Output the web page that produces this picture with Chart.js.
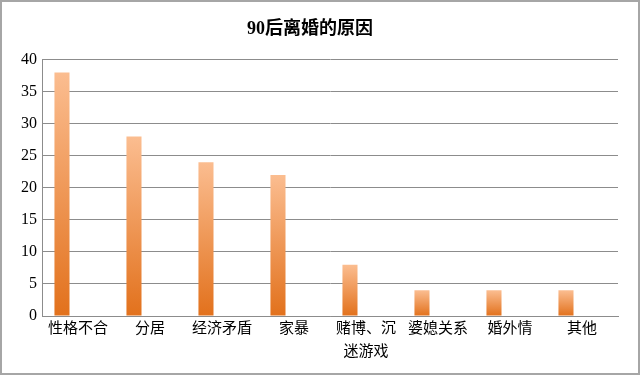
<!DOCTYPE html>
<html>
<head>
<meta charset="utf-8">
<script src="https://cdn.jsdelivr.net/npm/chart.js@4"></script>
<style>
  html, body { margin: 0; padding: 0; background: #fff; }
  #wrap { width: 636px; height: 371px; border: 2px solid #a6a6a6; position: relative; }
</style>
</head>
<body>
<div id="wrap"><canvas id="myChart" width="636" height="371"></canvas></div>
<script>
// categories and values
var categories = ['性格不合', '分居', '经济矛盾', '家暴', ['赌博、沉', '迷游戏'], '婆媳关系', '婚外情', '其他'];
var reasonCounts = [38, 28, 24, 22, 8, 4, 4, 4];
// excel had a second (empty) series, which pushes every bar left of its label
var emptySeries = [null, null, null, null, null, null, null, null];
var yTicks = [0, 5, 10, 15, 20, 25, 30, 35, 40];

var serif = '"Liberation Serif", "Noto Sans CJK SC", serif';

function barGradient(context) {
  var chart = context.chart;
  var y = chart.scales.y;
  if (!y || !chart.chartArea) return '#ee8a45';
  var top = y.getPixelForValue(context.raw || 0);
  var base = y.getPixelForValue(0);
  if (!isFinite(top) || base - top < 1) return '#ee8a45';
  var g = chart.ctx.createLinearGradient(0, top, 0, base);
  g.addColorStop(0, '#fbbd90');
  g.addColorStop(1, '#e2711c');
  return g;
}

var ctx = document.getElementById('myChart').getContext('2d');
var chart = new Chart(ctx, {
  type: 'bar',
  data: {
    labels: categories,
    datasets: [{
      label: '90后离婚的原因',
      data: reasonCounts,
      backgroundColor: barGradient,
      borderWidth: 0,
      categoryPercentage: 0.89,
      barPercentage: 0.47
    }, {
      label: '',
      data: emptySeries,
      backgroundColor: 'rgba(0,0,0,0)',
      categoryPercentage: 0.89,
      barPercentage: 0.47
    }]
  },
  options: {
    responsive: false,
    animation: false,
    layout: { padding: { left: 0, right: 20, top: 0, bottom: 0 } },
    plugins: {
      legend: { display: false },
      tooltip: { enabled: false },
      title: {
        display: true,
        text: '90后离婚的原因',
        color: '#000',
        font: { family: serif, size: 18, weight: 'bold' },
        padding: { top: 17, bottom: 19 }
      }
    },
    scales: {
      x: {
        grid: { display: false, drawTicks: false },
        border: { display: true, color: '#8c8c8c', width: 1 },
        ticks: {
          color: '#000',
          font: { family: serif, size: 15, lineHeight: 1.55 },
          padding: 1,
          maxRotation: 0,
          autoSkip: false
        },
        afterFit: function (scale) { scale.height = 57; }
      },
      y: {
        min: 0,
        max: 40,
        grid: { color: '#8c8c8c', lineWidth: 1, drawTicks: false },
        border: { display: true, color: '#8c8c8c', width: 1 },
        afterBuildTicks: function (scale) {
          scale.ticks = yTicks.map(function (v) { return { value: v }; });
        },
        ticks: {
          color: '#000',
          font: { family: serif, size: 16 },
          padding: 5
        },
        afterFit: function (scale) { scale.width = 40; }
      }
    }
  }
});
</script>
</body>
</html>
